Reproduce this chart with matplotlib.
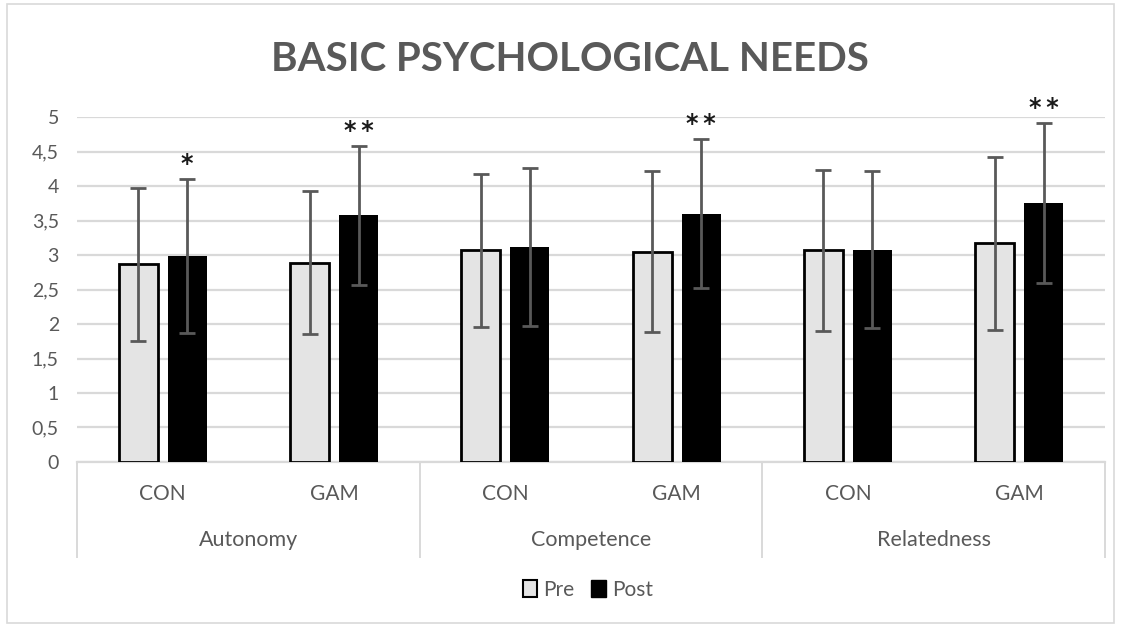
import matplotlib
matplotlib.use("Agg")
import matplotlib.pyplot as plt
import matplotlib.transforms as mtransforms
from matplotlib.patches import Rectangle, Patch
import numpy as np

plt.rcParams['font.family'] = ['Lato', 'DejaVu Sans']

# data
needs = ['Autonomy', 'Competence', 'Relatedness']
groups = ['CON', 'GAM']
pre_means = [2.865, 2.89, 3.07, 3.05, 3.07, 3.17]
post_means = [2.985, 3.575, 3.12, 3.60, 3.08, 3.75]
pre_sd = [1.11, 1.035, 1.11, 1.17, 1.165, 1.25]
post_sd = [1.115, 1.01, 1.145, 1.085, 1.14, 1.16]
post_stars = ['*', '**', '', '**', '', '**']
yticks = [0, 0.5, 1, 1.5, 2, 2.5, 3, 3.5, 4, 4.5, 5]

text_grey = '#595959'
grid_grey = '#d9d9d9'

fig = plt.figure(figsize=(11.21, 6.26), dpi=100)
fig.patches.append(Rectangle((0.006, 0.004), 0.988, 0.99, transform=fig.transFigure,
                             fill=False, edgecolor='#d9d9d9', lw=1.2))
ax = fig.add_axes([0.0687, 0.262, 0.917, 0.551])

x = np.arange(len(pre_means))
w = 0.228
off = 0.143
err_kw = dict(ecolor=text_grey, elinewidth=2, capsize=5.5, capthick=2)
ax.bar(x - off, pre_means, w, yerr=pre_sd, color='#e4e4e4', edgecolor='black',
       linewidth=2, error_kw=err_kw, label='Pre', zorder=3)
ax.bar(x + off, post_means, w, yerr=post_sd, color='black', edgecolor='black',
       linewidth=0, error_kw=err_kw, label='Post', zorder=3)

for xi, m, s, st in zip(x, post_means, post_sd, post_stars):
    if st:
        ax.annotate('\u2009'.join(st), (xi + off, m + s), xytext=(0, 2), textcoords='offset points',
                    ha='center', va='bottom', fontsize=17, fontweight='bold', color='#1a1a1a',
                    family='DejaVu Sans')

ax.set_ylim(0, 5)
ax.set_xlim(-0.5, len(pre_means) - 0.5)
ax.set_yticks(yticks)
ax.set_yticklabels([('%g' % t).replace('.', ',') for t in yticks])
ax.tick_params(axis='y', length=0, labelsize=14, labelcolor=text_grey, pad=13)
ax.set_xticks([])
ax.yaxis.grid(True, color=grid_grey, lw=1.6, zorder=0)
for sp in ['left', 'right', 'top']:
    ax.spines[sp].set_visible(False)
ax.spines['bottom'].set_color(grid_grey)
ax.spines['bottom'].set_linewidth(1.6)

# hierarchical category axis
trans = mtransforms.blended_transform_factory(ax.transData, ax.transAxes)
for b in [-0.5, 1.5, 3.5, 5.5]:
    ax.plot([b, b], [0, -0.275], transform=trans, color=grid_grey, lw=1.4, clip_on=False)
for xi in x:
    ax.text(xi, -0.093, groups[xi % 2], transform=trans, ha='center', va='center',
            fontsize=15, color=text_grey)
for i, n in enumerate(needs):
    ax.text(2 * i + 0.5, -0.226, n, transform=trans, ha='center', va='center',
            fontsize=15.5, color=text_grey)

handles = [Patch(facecolor='#e4e4e4', edgecolor='black', lw=1.5),
           Patch(facecolor='black', edgecolor='black')]
leg = ax.legend(handles, ['Pre', 'Post'], loc='center', bbox_to_anchor=(0.497, -0.371),
                ncol=2, frameon=False, fontsize=15, handlelength=0.7, handleheight=0.9,
                handletextpad=0.3, columnspacing=0.8, labelcolor=text_grey)

fig.text(0.508, 0.905, 'BASIC PSYCHOLOGICAL NEEDS', ha='center', va='center',
         fontsize=29, fontweight='bold', color=text_grey)

fig.savefig('out.png', dpi=100)
